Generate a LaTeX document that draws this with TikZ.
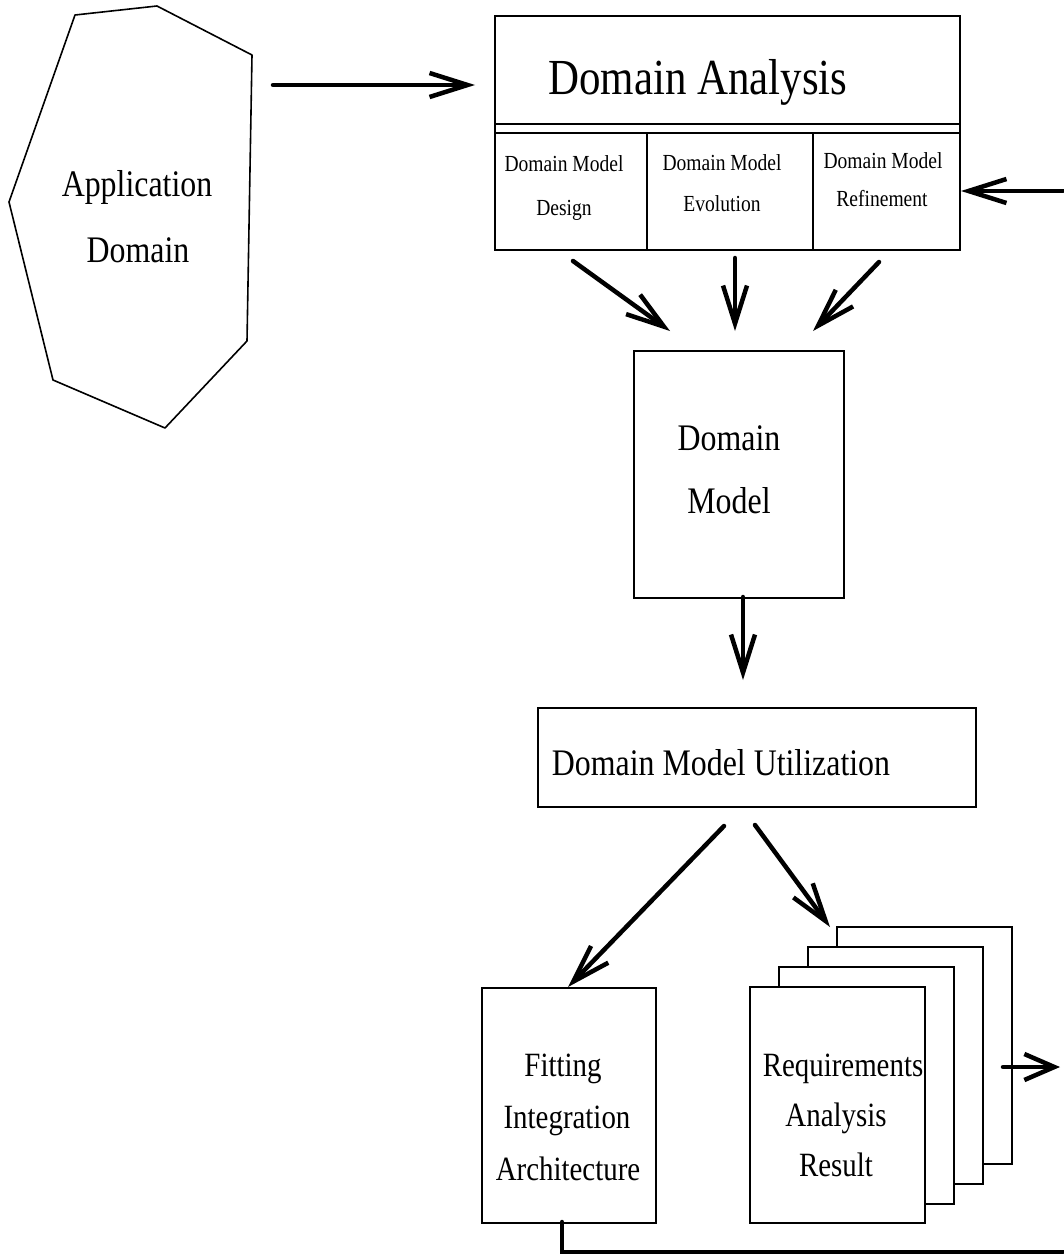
\documentclass[tikz,border=0pt]{standalone}
\usepackage{fontspec}
\setmainfont{Liberation Serif}[FakeStretch=0.85]
\usetikzlibrary{arrows.meta}
\begin{document}
\begin{tikzpicture}[x=1pt,y=-1pt,
  box/.style={draw,line width=1.6pt,rectangle,inner sep=0pt,anchor=north west,fill=white},
  lbl/.style={anchor=base,inner sep=0pt},
  fbig/.style={font=\fontsize{50.5}{58}\selectfont},
  fmid/.style={font=\fontsize{37.5}{44}\selectfont},
  fsub/.style={font=\fontsize{34}{40}\selectfont},
  fsml/.style={font=\fontsize{23}{27}\selectfont},
  arr/.style={line width=4.5pt,line cap=round,-{Straight Barb[length=38pt,width=24pt,line width=4.5pt]}},
  arrs/.style={line width=4.5pt,line cap=round,-{Straight Barb[length=30pt,width=26pt,line width=4.5pt]}},
  conn/.style={line width=4.5pt,line cap=round},
]
\useasboundingbox (0,0) rectangle (1063,1255);

% Application domain
\draw[line width=1.6pt,line join=round] (75,15) -- (157,6) -- (252,55) -- (247,341) -- (165,428) -- (53,380) -- (9,202) -- cycle;
\node[lbl,fmid] (app1) at (137,196) {Application};
\node[lbl,fmid] (app2) at (138,262) {Domain};

% Domain analysis box
\node[box,minimum width=465pt,minimum height=234pt] (da) at (494,15) {};
\draw[line width=1.4pt] (494,124) -- (959,124);
\draw[line width=1.4pt] (494,133) -- (959,133);
\draw[line width=1.4pt] (647,133) -- (647,249);
\draw[line width=1.4pt] (813,133) -- (813,249);
\node[lbl,fbig] (daT) at (698,94) {Domain Analysis};
\node[lbl,fsml] (c1a) at (564,171) {Domain Model};
\node[lbl,fsml] (c1b) at (564,215) {Design};
\node[lbl,fsml] (c2a) at (722,170) {Domain Model};
\node[lbl,fsml] (c2b) at (722,211) {Evolution};
\node[lbl,fsml] (c3a) at (883,168) {Domain Model};
\node[lbl,fsml] (c3b) at (882,206) {Refinement};

% Domain model
\node[box,minimum width=210pt,minimum height=247pt] (dm) at (633,350) {};
\node[lbl,fmid] (dmT1) at (729,450) {Domain};
\node[lbl,fmid] (dmT2) at (729,513) {Model};

% Utilization
\node[box,minimum width=438pt,minimum height=99pt] (ut) at (537,707) {};
\node[lbl,fmid] (utT) at (721,775) {Domain Model Utilization};

% Fitting integration architecture
\node[box,minimum width=174pt,minimum height=235pt] (fit) at (481,987) {};
\node[lbl,fsub] (f1) at (563,1076) {Fitting};
\node[lbl,fsub] (f2) at (567,1128) {Integration};
\node[lbl,fsub] (f3) at (568,1180) {Architecture};

% Requirements pages
\node[box,minimum width=175pt,minimum height=237pt] (p4) at (836,926) {};
\node[box,minimum width=175pt,minimum height=237pt] (p3) at (807,946) {};
\node[box,minimum width=175pt,minimum height=237pt] (p2) at (778,966) {};
\node[box,minimum width=175pt,minimum height=236pt] (p1) at (749,986) {};
\node[lbl,fsub] (r1) at (843,1076) {Requirements};
\node[lbl,fsub] (r2) at (836,1126) {Analysis};
\node[lbl,fsub] (r3) at (836,1176) {Result};

% connectors
\coordinate (appOut) at (273,85);
\coordinate (daIn) at (475,85);
\draw[arr] (appOut) -- (daIn);

\coordinate (extIn) at (1063,191);
\coordinate (daR) at (961,191);
\draw[arr] (extIn) -- (daR);

\coordinate (s1) at (573,261); \coordinate (t1) at (670,331);
\coordinate (s2) at (735,258); \coordinate (t2) at (735,331);
\coordinate (s3) at (879,262); \coordinate (t3) at (813,331);
\draw[arr] (s1) -- (t1);
\draw[arr] (s2) -- (t2);
\draw[arr] (s3) -- (t3);

\coordinate (dmS) at (743,597); \coordinate (utN) at (743,680);
\draw[arr] (dmS) -- (utN);

\coordinate (u1) at (724,826); \coordinate (fitN) at (568,987);
\coordinate (u2) at (755,825); \coordinate (p4N) at (830,927);
\draw[arr] (u1) -- (fitN);
\draw[arr] (u2) -- (p4N);

\coordinate (pOut) at (1003,1067); \coordinate (extOut) at (1060,1067);
\draw[arrs] (pOut) -- (extOut);

\coordinate (fitS) at (562,1222); \coordinate (extB) at (1063,1252);
\draw[conn] (fitS) |- (extB);
\end{tikzpicture}
\end{document}
